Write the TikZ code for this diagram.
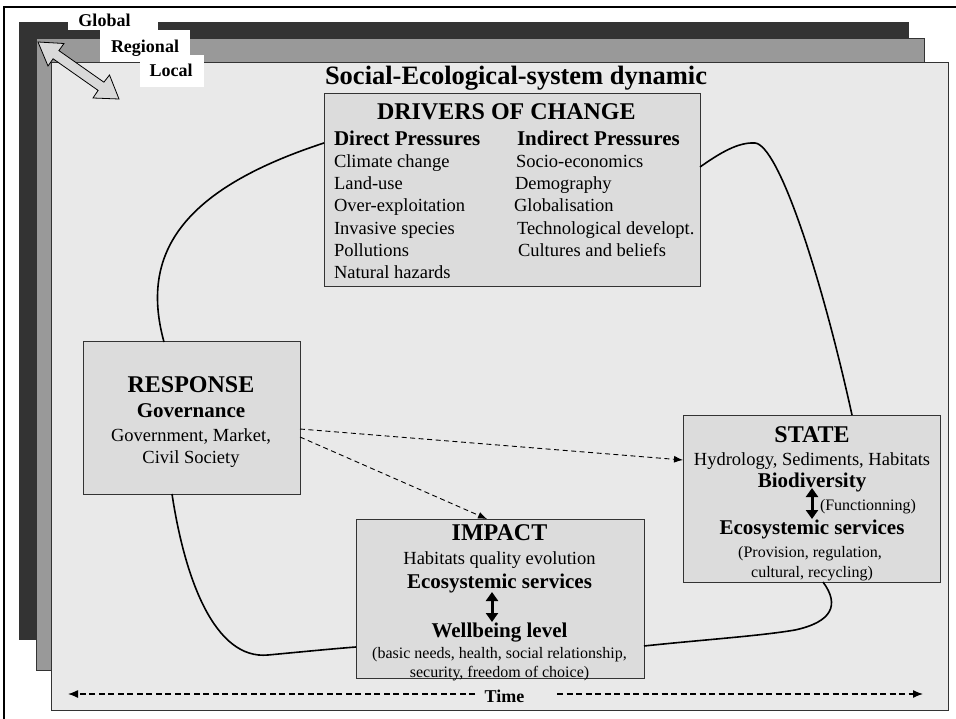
\documentclass[tikz,border=0pt]{standalone}
\usepackage{fontspec}
\setmainfont{Liberation Serif}
\usetikzlibrary{arrows.meta}

\definecolor{layerdark}{HTML}{333333}
\definecolor{layermid}{HTML}{999999}
\definecolor{panel}{HTML}{E9E9E9}
\definecolor{boxfill}{HTML}{DCDCDC}
\definecolor{edge}{HTML}{333333}
\definecolor{scalefill}{HTML}{D9D9D9}

\newcommand\fsz[1]{\fontsize{#1}{#1}\selectfont}

\begin{document}
\begin{tikzpicture}[x=1pt,y=-1pt,
  layer/.style={draw=edge, line width=0.8pt},
  box/.style={draw=edge, fill=boxfill, line width=1pt, inner sep=0pt, outer sep=0pt},
  txt/.style={inner sep=0pt, outer sep=0pt, anchor=base},
  txtl/.style={inner sep=0pt, outer sep=0pt, anchor=base west},
  headf/.style={font=\fsz{24}\bfseries},
  subf/.style={font=\fsz{21}\bfseries},
  bodyf/.style={font=\fsz{18.5}},
  smallf/.style={font=\fsz{16}},
  labelf/.style={font=\fsz{18}\bfseries},
  loopline/.style={line width=1.6pt},
  influence/.style={dash pattern=on 5pt off 3.5pt, line width=0.9pt,
    -{Latex[length=9pt,width=7pt]}},
  timeline/.style={dash pattern=on 6pt off 3.5pt, line width=1.3pt,
    -{Latex[length=10pt,width=8pt]}},
  twoway/.style={line width=3pt,
    {Triangle[length=9pt,width=12pt]}-{Triangle[length=9pt,width=12pt]}},
]
\useasboundingbox (0,0) rectangle (956,719);
\fill[white] (0,0) rectangle (956,719);

% outer frame
\draw[line width=1.5pt] (4,725) -- (4,7) -- (960,7);

% stacked scale layers
\filldraw[layer, fill=layerdark] (19,22) rectangle (908,639);
\filldraw[layer, fill=layermid] (36,38) rectangle (924,670);
\filldraw[layer, fill=panel] (51,62) rectangle (948,710);

% scale labels
\fill[white] (68,9) rectangle (158,30);
\fill[white] (100,30) rectangle (190,62);
\fill[white] (140,55) rectangle (204,87);
\node[txt, labelf] (global) at (104.5,27) {Global};
\node[txt, labelf] (regional) at (145,53) {Regional};
\node[txt, labelf] (local) at (171,77) {Local};

% scale double arrow
\filldraw[fill=scalefill, draw=black, line width=0.8pt, line join=miter]
  (38,42) -- (64,43.5) -- (58.9,50.6) -- (103.9,82.2) -- (109.5,75)
  -- (119,99) -- (93,98) -- (98.1,90.4) -- (53.1,58.8) -- (48,66) -- cycle;

% title
\node[txtl, font=\fsz{26.5}\bfseries] (title) at (325,85) {Social-Ecological-system dynamic};

% boxes
\node[box, minimum width=376pt, minimum height=193pt] (drivers) at (512,190.5) {};
\node[box, minimum width=217pt, minimum height=152pt] (response) at (191.5,418) {};
\node[box, minimum width=257pt, minimum height=167pt] (state) at (811.5,498.5) {};
\node[box, minimum width=288pt, minimum height=159pt] (impact) at (500,598.5) {};

% cycle of the DPSIR loop
\draw[loopline] ([yshift=47.5pt]drivers.west) .. controls (180,190) and (140,255)
  .. ([xshift=-27.5pt]response.north);
\draw[loopline] ([yshift=23.5pt]drivers.east) .. controls (720,153) and (738,142)
  .. (755,143) .. controls (778,145) and (820,270) .. ([xshift=40.5pt]state.north);
\draw[loopline] ([xshift=11.5pt]state.south) .. controls (840,605) and (832,622)
  .. (795,630) .. controls (760,636) and (700,640) .. ([yshift=-47.5pt]impact.east);
\draw[loopline] ([xshift=-19.5pt]response.south) .. controls (185,580) and (215,660)
  .. (268,655) .. controls (300,652) and (330,649) .. ([yshift=-48.5pt]impact.west);

% response acting on state and impact
\draw[influence] ([yshift=-11pt]response.east) -- ([yshift=38.5pt]state.west);
\draw[influence] ([yshift=-19pt]response.east) -- ([xshift=-13pt]impact.north);

% drivers text
\node[txtl, headf] (dtitle) at (377,120) {DRIVERS OF CHANGE};
\node[txtl, subf] (direct) at (334,146) {Direct Pressures};
\node[txtl, subf] (indirect) at (517,146) {Indirect Pressures};
\node[txtl, bodyf] (d1) at (334,168) {Climate change};
\node[txtl, bodyf] (d2) at (334,190) {Land-use};
\node[txtl, bodyf] (d3) at (334,212) {Over-exploitation};
\node[txtl, bodyf] (d4) at (334,235) {Invasive species};
\node[txtl, bodyf] (d5) at (334,257) {Pollutions};
\node[txtl, bodyf] (d6) at (334,279) {Natural hazards};
\node[txtl, bodyf] (i1) at (516,168) {Socio-economics};
\node[txtl, bodyf] (i2) at (515,190) {Demography};
\node[txtl, bodyf] (i3) at (514,212) {Globalisation};
\node[txtl, bodyf] (i4) at (517,235) {Technological developt.};
\node[txtl, bodyf] (i5) at (518,257) {Cultures and beliefs};

% response text
\node[txt, headf] (rtitle) at (191,392) {RESPONSE};
\node[txt, subf] (rgov) at (191,417) {Governance};
\node[txt, bodyf] (r1) at (191,441) {Government, Market,};
\node[txt, bodyf] (r2) at (191,463) {Civil Society};

% state text
\node[txt, headf] (stitle) at (812,442) {STATE};
\node[txt, bodyf] (s1) at (812,465) {Hydrology, Sediments, Habitats};
\node[txt, subf] (sbio) at (812,487) {Biodiversity};
\node[txtl, smallf] (sfun) at (820,510) {(Functionning)};
\node[txt, subf] (seco) at (812,534) {Ecosystemic services};
\node[txt, smallf] (s2) at (810,557) {(Provision, regulation,};
\node[txt, smallf] (s3) at (812,577) {cultural, recycling)};
\coordinate (sa1) at (812,488);
\coordinate (sa2) at (812,519);
\draw[twoway] (sa1) -- (sa2);

% impact text
\node[txt, headf] (ititle) at (499.5,540) {IMPACT};
\node[txt, bodyf] (i6) at (499.5,564) {Habitats quality evolution};
\node[txt, subf] (ieco) at (499.5,588) {Ecosystemic services};
\node[txt, subf] (iwell) at (499.5,637) {Wellbeing level};
\node[txt, smallf] (i7) at (499.5,658) {(basic needs, health, social relationship,};
\node[txt, smallf] (i8) at (499.5,677) {security, freedom of choice)};
\coordinate (ia1) at (492,592);
\coordinate (ia2) at (492,622);
\draw[twoway] (ia1) -- (ia2);

% time axis
\node[txt, labelf] (time) at (504.5,702) {Time};
\coordinate (tL) at (68,694);
\coordinate (tLg) at (475,694);
\coordinate (tRg) at (557,694);
\coordinate (tR) at (923,694);
\draw[timeline] (tLg) -- (tL);
\draw[timeline] (tRg) -- (tR);
\end{tikzpicture}
\end{document}
